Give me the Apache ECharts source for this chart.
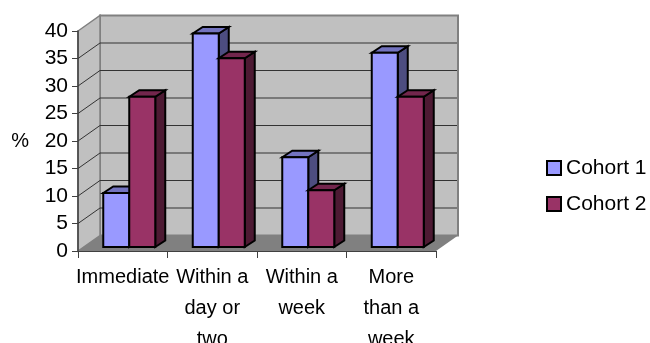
<!DOCTYPE html>
<html>
<head>
<meta charset="utf-8">
<style>html,body{margin:0;padding:0;background:#fff}#chart{width:650px;height:343px}</style>
<script src="https://cdn.jsdelivr.net/npm/echarts@6/dist/echarts.min.js"></script>
</head>
<body>
<div id="chart"></div>
<script>
const categories = ['Immediate', 'Within a\nday or\ntwo', 'Within a\nweek', 'More\nthan a\nweek'];
const cohort1 = [10, 39, 16.5, 35.5];
const cohort2 = [27.5, 34.5, 10.5, 27.5];
const yTicks = [0, 5, 10, 15, 20, 25, 30, 35, 40];

// Oblique projection used for the box and the bars, in pixels
const WALL_DX = 22, WALL_DY = -15.5;
const BAR_INSET_X = 6.5, BAR_INSET_Y = -3;
const BAR_W = 26, BAR_DX = 10, BAR_DY = -6.5;

const FONT = '"Liberation Sans", Arial, sans-serif';

function poly(points, fill, stroke, lineWidth) {
  return {
    type: 'polygon',
    shape: { points },
    style: { fill, stroke: stroke || 'none', lineWidth: lineWidth || 0, lineJoin: 'miter' }
  };
}

// Side wall, back wall and floor of the box
function renderBox(params) {
  const c = params.coordSys;
  const l = c.x, r = c.x + c.width, t = c.y, b = c.y + c.height;
  const dx = WALL_DX, dy = WALL_DY;
  return {
    type: 'group',
    children: [
      poly([[l + dx, t + dy], [r + dx, t + dy], [r + dx, b + dy], [l + dx, b + dy]], '#c0c0c0', '#808080', 2),
      poly([[l, t], [l + dx, t + dy], [l + dx, b + dy], [l, b]], '#c0c0c0', '#808080', 1.5),
      poly([[l, b], [l + dx, b + dy], [r + dx, b + dy], [r, b]], '#808080')
    ]
  };
}

// One gridline: a diagonal on the side wall, then across the back wall
function renderGrid(params, api) {
  const value = api.value(1);
  if (value === 0 || value === yTicks[yTicks.length - 1]) return null;
  const c = params.coordSys;
  const y = api.coord([0, value])[1];
  return {
    type: 'polyline',
    shape: { points: [[c.x, y], [c.x + WALL_DX, y + WALL_DY], [c.x + c.width + WALL_DX - 1, y + WALL_DY]] },
    style: { fill: 'none', stroke: '#333333', lineWidth: 1 }
  };
}

// A bar with front, top and side faces; slot -1 sits left of the category centre, 0 right of it
function barRenderer(slot, front, topFace, sideFace) {
  return function (params, api) {
    const cat = api.value(0);
    const p = api.coord([cat, api.value(1)]);
    const base = api.coord([cat, 0]);
    const x0 = p[0] + BAR_INSET_X + slot * BAR_W;
    const x1 = x0 + BAR_W;
    const yT = p[1] + BAR_INSET_Y;
    const yB = base[1] + BAR_INSET_Y - 1;
    const s = '#000000', w = 2;
    return {
      type: 'group',
      children: [
        poly([[x1, yT], [x1 + BAR_DX, yT + BAR_DY], [x1 + BAR_DX, yB + BAR_DY], [x1, yB]], sideFace, s, w),
        poly([[x0, yT], [x0 + BAR_DX, yT + BAR_DY], [x1 + BAR_DX, yT + BAR_DY], [x1, yT]], topFace, s, w),
        poly([[x0, yT], [x1, yT], [x1, yB], [x0, yB]], front, s, w)
      ]
    };
  };
}

const chart = echarts.init(document.getElementById('chart'), null, { renderer: 'canvas' });
chart.setOption({
  animation: false,
  backgroundColor: '#ffffff',
  textStyle: { fontFamily: FONT },
  grid: { left: 78, right: 214, top: 31, bottom: 92, outerBoundsMode: 'none' },
  legend: {
    orient: 'vertical',
    left: 546,
    top: 157,
    padding: 0,
    itemWidth: 14,
    itemHeight: 14,
    itemGap: 14,
    selectedMode: false,
    textStyle: { fontFamily: FONT, fontSize: 21, color: '#000', lineHeight: 22 },
    data: [
      { name: 'Cohort 1', icon: 'rect', itemStyle: { color: '#9999ff', borderColor: '#000', borderWidth: 2 } },
      { name: 'Cohort 2', icon: 'rect', itemStyle: { color: '#993366', borderColor: '#000', borderWidth: 2 } }
    ]
  },
  xAxis: {
    type: 'category',
    data: categories,
    z: 10,
    axisLine: { show: true, lineStyle: { color: '#404040', width: 1 } },
    axisTick: { show: true, length: 7, alignWithLabel: false, lineStyle: { color: '#404040', width: 1 } },
    axisLabel: { interval: 0, hideOverlap: false, fontFamily: FONT, fontSize: 20, color: '#000', lineHeight: 31, margin: 11 },
    splitLine: { show: false }
  },
  yAxis: {
    type: 'value',
    min: 0,
    max: 40,
    interval: 5,
    z: 10,
    name: '%',
    nameLocation: 'middle',
    nameRotate: 0,
    nameGap: 49,
    nameTextStyle: { fontFamily: FONT, fontSize: 20, color: '#000' },
    axisLine: { show: true, lineStyle: { color: '#404040', width: 1.5 } },
    axisTick: { show: true, length: 6, lineStyle: { color: '#404040', width: 1 } },
    axisLabel: { fontFamily: FONT, fontSize: 21, color: '#000', margin: 10 },
    splitLine: { show: false }
  },
  series: [
    { type: 'custom', name: 'box', z: 1, silent: true, renderItem: renderBox, data: [[0, 0]], encode: { x: 0, y: 1 } },
    { type: 'custom', name: 'grid', z: 2, silent: true, renderItem: renderGrid, data: yTicks.map(v => [0, v]), encode: { x: 0, y: 1 } },
    {
      type: 'custom', name: 'Cohort 1', z: 3,
      itemStyle: { color: '#9999ff' },
      renderItem: barRenderer(-1, '#9999ff', '#7373bf', '#4d4d80'),
      data: cohort1.map((v, i) => [i, v]), encode: { x: 0, y: 1 }
    },
    {
      type: 'custom', name: 'Cohort 2', z: 4,
      itemStyle: { color: '#993366' },
      renderItem: barRenderer(0, '#993366', '#73264d', '#4d1a33'),
      data: cohort2.map((v, i) => [i, v]), encode: { x: 0, y: 1 }
    }
  ]
});
</script>
</body>
</html>
